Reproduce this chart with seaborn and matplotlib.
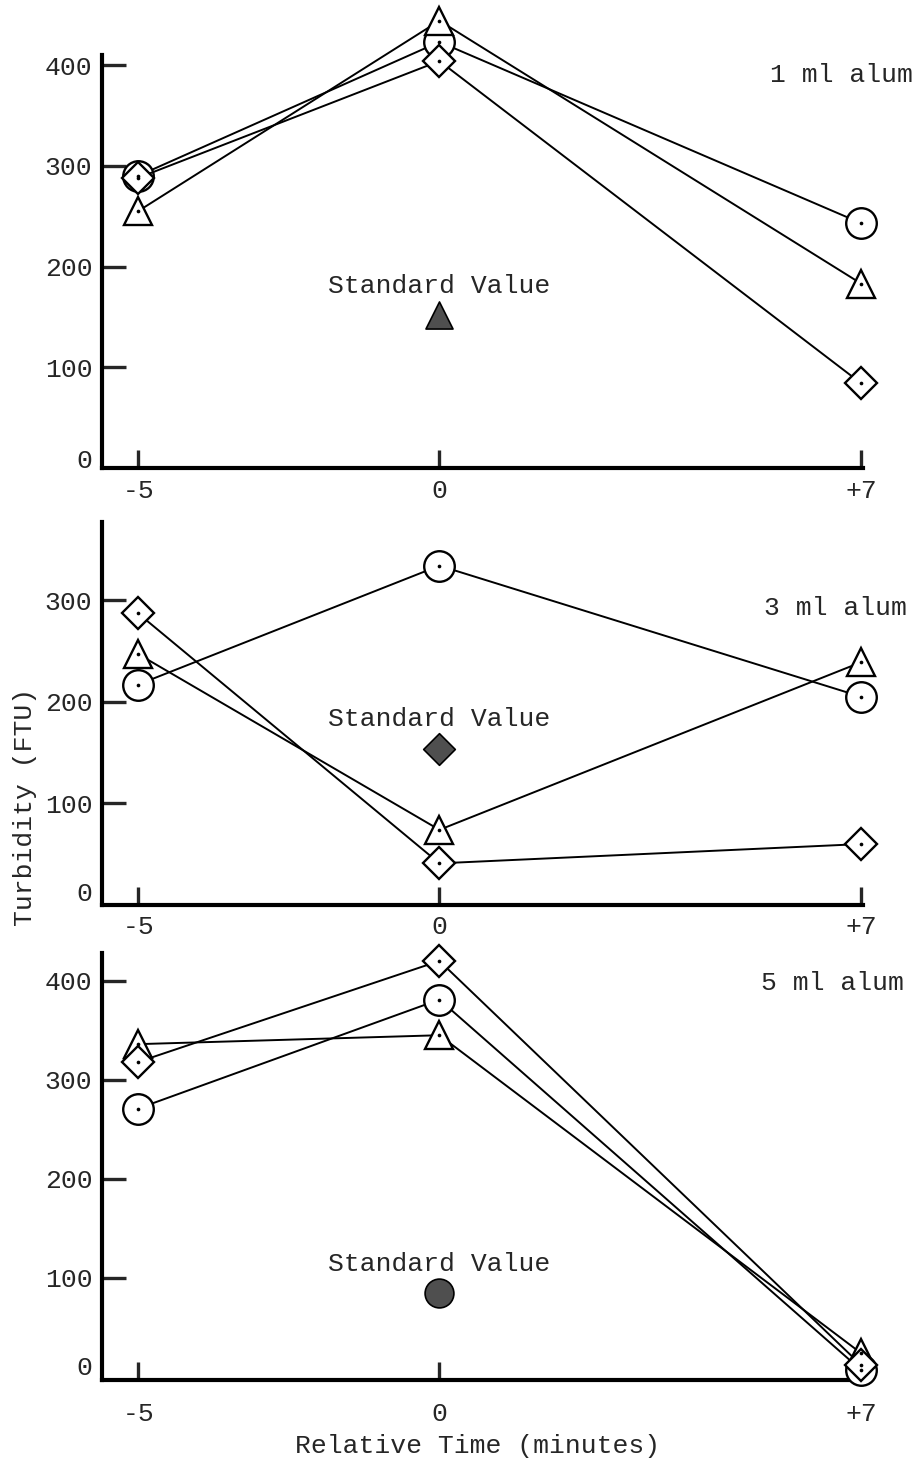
import matplotlib
matplotlib.use("Agg")
import matplotlib.pyplot as plt
import matplotlib.transforms as mtransforms
import numpy as np
import pandas as pd
import seaborn as sns

# ---- data -----------------------------------------------------------------
time_min = [-5, 0, 7]
time_labels = ["-5", "0", "+7"]
turbidity_ticks = [0, 100, 200, 300, 400]
dose_labels = ["1 ml alum", "3 ml alum", "5 ml alum"]

# turbidity (FTU) at -5, 0 and +7 minutes, three replicate runs per dose
circle_1ml = [290, 423, 243]
triangle_1ml = [255, 444, 183]
diamond_1ml = [288, 404, 84]

circle_3ml = [217, 334, 205]
triangle_3ml = [247, 74, 239]
diamond_3ml = [287, 41, 60]

circle_5ml = [271, 381, 7]
triangle_5ml = [336, 345, 24]
diamond_5ml = [318, 420, 12]

# standard value measured at time 0 for each dose
standard_value = [152, 154, 85]

runs = [
    {"circle": circle_1ml, "triangle": triangle_1ml, "diamond": diamond_1ml},
    {"circle": circle_3ml, "triangle": triangle_3ml, "diamond": diamond_3ml},
    {"circle": circle_5ml, "triangle": triangle_5ml, "diamond": diamond_5ml},
]

# ---- style ----------------------------------------------------------------
sns.set_style("white")
plt.rcParams["font.family"] = ["Liberation Mono", "DejaVu Sans Mono"]
plt.rcParams["font.size"] = 19

run_markers = {"circle": ("o", 22), "triangle": ("^", 20), "diamond": ("D", 16)}
standard_markers = [("^", 380), ("D", 260), ("o", 430)]
standard_fill = "#4f4f4f"

W, H = 921, 1464
fig = plt.figure(figsize=(W / 100, H / 100), dpi=100)

# axes boxes in pixels: (left, top, right, bottom)
boxes = [(102, 55, 863, 468), (102, 522, 863, 905), (102, 953, 863, 1380)]
ylims = [(0, 410), (0, 377), (-3, 428)]
xlim = (-5.6, 7.03)
xtick_pad = [8, 7, 16]
zero_label_lift = [10, 14, 12]   # pixels
dose_label_pos = [(0.878, 0.952), (0.870, 0.775), (0.866, 0.930)]

for i, (l, t, r, b) in enumerate(boxes):
    ax = fig.add_axes([l / W, 1 - b / H, (r - l) / W, (b - t) / H])

    df = pd.DataFrame({
        "time": time_min * 3,
        "turbidity": sum(runs[i].values(), []),
        "run": np.repeat(list(runs[i].keys()), len(time_min)),
    })

    for name, (mk, ms) in run_markers.items():
        sub = df[df["run"] == name]
        sns.lineplot(data=sub, x="time", y="turbidity", ax=ax,
                     estimator=None, sort=False, legend=False,
                     color="black", linewidth=1.4,
                     marker=mk, markersize=ms, markerfacecolor="white",
                     markeredgecolor="black", markeredgewidth=1.7,
                     clip_on=False, zorder=3)
    # small centre dot inside each open marker
    sns.scatterplot(data=df, x="time", y="turbidity", ax=ax, color="black",
                    s=7, linewidth=0, legend=False, clip_on=False, zorder=5)

    # standard value
    smk, ss = standard_markers[i]
    sns.scatterplot(x=[0], y=[standard_value[i]], ax=ax, marker=smk, s=ss,
                    color=standard_fill, edgecolor="black", linewidth=1.2,
                    legend=False, clip_on=False, zorder=4)
    ax.annotate("Standard Value", xy=(0, standard_value[i]),
                xytext=(0, 21), textcoords="offset points",
                ha="center", va="center", fontsize=19)

    ax.text(*dose_label_pos[i], dose_labels[i], transform=ax.transAxes,
            ha="left", va="center", fontsize=19, clip_on=False)

    ax.set_xlim(*xlim)
    ax.set_xticks(time_min, time_labels)
    ax.set_yticks(turbidity_ticks)
    ax.set_ylim(*ylims[i])
    ax.set_xlabel("")
    ax.set_ylabel("")

    for side in ("top", "right"):
        ax.spines[side].set_visible(False)
    for side in ("left", "bottom"):
        ax.spines[side].set_linewidth(3)
        ax.spines[side].set_color("black")

    ax.tick_params(axis="y", direction="in", length=17, width=2.4,
                   pad=7, labelsize=19, left=True)
    ax.tick_params(axis="x", direction="in", length=13, width=2.4,
                   pad=xtick_pad[i], labelsize=19, bottom=True)

    # the "0" label sits just above the axis line without a tick mark
    yt = ax.yaxis.get_major_ticks()
    yt[0].tick1line.set_visible(False)
    lift = mtransforms.ScaledTranslation(0, zero_label_lift[i] / 100,
                                         fig.dpi_scale_trans)
    yt[0].label1.set_transform(yt[0].label1.get_transform() + lift)

fig.text(25 / W, 1 - 807 / H, "Turbidity (FTU)", rotation=90,
         ha="center", va="center", fontsize=19)
fig.text(478 / W, 1 - 1446 / H, "Relative Time (minutes)",
         ha="center", va="center", fontsize=19)

fig.savefig("out.png", dpi=100, facecolor="white")
